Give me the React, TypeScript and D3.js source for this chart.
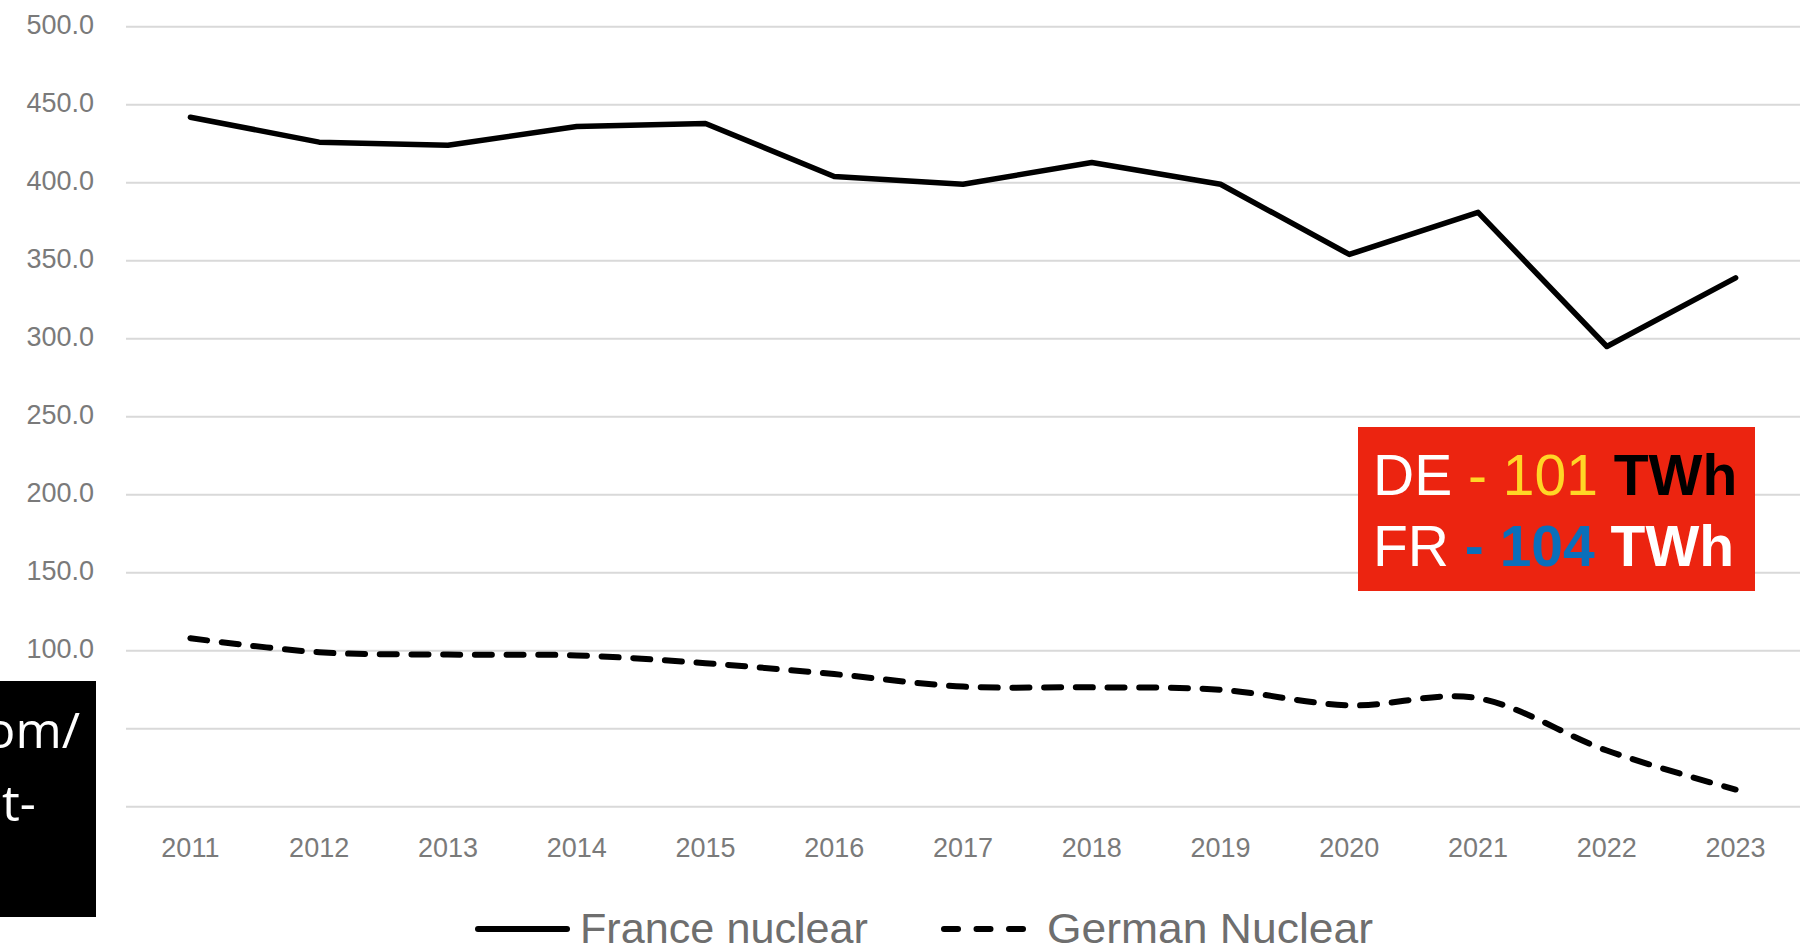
import React from "react";
import * as d3 from "d3";

const years = ["2011","2012","2013","2014","2015","2016","2017","2018","2019","2020","2021","2022","2023"];
const franceNuclear = [442, 426, 424, 436, 438, 404, 399, 413, 399, 354, 381, 295, 339];
const germanNuclear = [108, 99, 97.5, 97, 92, 85, 77, 76.5, 75, 65, 69.5, 36, 11];
const yTicks = [0, 50, 100, 150, 200, 250, 300, 350, 400, 450, 500];
const legendLabels = ["France nuclear", "German Nuclear"];

const W = 1812, H = 952;

export default function App() {
  const x = d3.scalePoint<string>().domain(years).range([126, 1800]).padding(0.5);
  const y = d3.scaleLinear().domain([0, 500]).range([806.7, 26.7]);
  const lineFR = d3.line<number>().x((_, i) => x(years[i]) as number).y(d => y(d)).curve(d3.curveLinear);
  const lineDE = d3.line<number>().x((_, i) => x(years[i]) as number).y(d => y(d)).curve(d3.curveCatmullRom.alpha(0));
  const axisFont = "'Liberation Sans', Arial, sans-serif";
  const grey = "#7a7a7a";
  return (
    <svg width={W} height={H} style={{ position: "absolute", left: 0, top: 0, background: "#fff" }}>
      <rect x={0} y={0} width={W} height={H} fill="#fff" />
      {yTicks.map(t => (
        <g key={t}>
          <line x1={126} x2={1800} y1={y(t)} y2={y(t)} stroke="#d9d9d9" strokeWidth={2} />
          <text x={94} y={y(t) - 2} textAnchor="end" dominantBaseline="central" fontFamily={axisFont} fontSize={27} fill={grey}>{t.toFixed(1)}</text>
        </g>
      ))}
      {years.map(yr => (
        <text key={yr} x={x(yr)} y={857} textAnchor="middle" fontFamily={axisFont} fontSize={27} fill={grey}>{yr}</text>
      ))}
      <path d={lineFR(franceNuclear) || ""} fill="none" stroke="#000" strokeWidth={5.5} strokeLinejoin="round" strokeLinecap="round" />
      <path d={lineDE(germanNuclear) || ""} fill="none" stroke="#000" strokeWidth={6} strokeDasharray="17 14.7" strokeLinecap="round" />

      {/* legend */}
      <line x1={478} x2={567} y1={929} y2={929} stroke="#000" strokeWidth={6} strokeLinecap="round" />
      <text x={580} y={942.5} fontFamily={axisFont} fontSize={43} fill="#6e6e6e" textLength={288} lengthAdjust="spacingAndGlyphs">{legendLabels[0]}</text>
      <line x1={944} x2={1026} y1={929} y2={929} stroke="#000" strokeWidth={6} strokeLinecap="round" strokeDasharray="14 18.5" />
      <text x={1047} y={942.5} fontFamily={axisFont} fontSize={43} fill="#6e6e6e" textLength={326} lengthAdjust="spacingAndGlyphs">{legendLabels[1]}</text>

      {/* red annotation box */}
      <rect x={1358} y={427} width={397} height={164} fill="#ec2410" />
      <text x={1373} y={495} fontFamily="'Liberation Sans', Helvetica, Arial, sans-serif" fontSize={57}>
        <tspan fill="#fff">DE </tspan>
        <tspan fill="#ffd626">- 101 </tspan>
        <tspan fill="#000" fontWeight="bold">TWh</tspan>
      </text>
      <text x={1373} y={566} fontFamily="'Liberation Sans', Helvetica, Arial, sans-serif" fontSize={57}>
        <tspan fill="#fff">FR </tspan>
        <tspan fill="#0a6fba" fontWeight="bold">- 104 </tspan>
        <tspan fill="#fff" fontWeight="bold">TWh</tspan>
      </text>

      {/* black overlay box on left */}
      <rect x={0} y={681} width={96} height={236} fill="#000" />
      <text x={80} y={748} textAnchor="end" fontFamily="'Open Sans', 'Noto Sans', sans-serif" fontSize={50} fill="#fff">om/</text>
      <text x={2} y={821} fontFamily="'Open Sans', 'Noto Sans', sans-serif" fontSize={50} fill="#fff">t-</text>
    </svg>
  );
}
